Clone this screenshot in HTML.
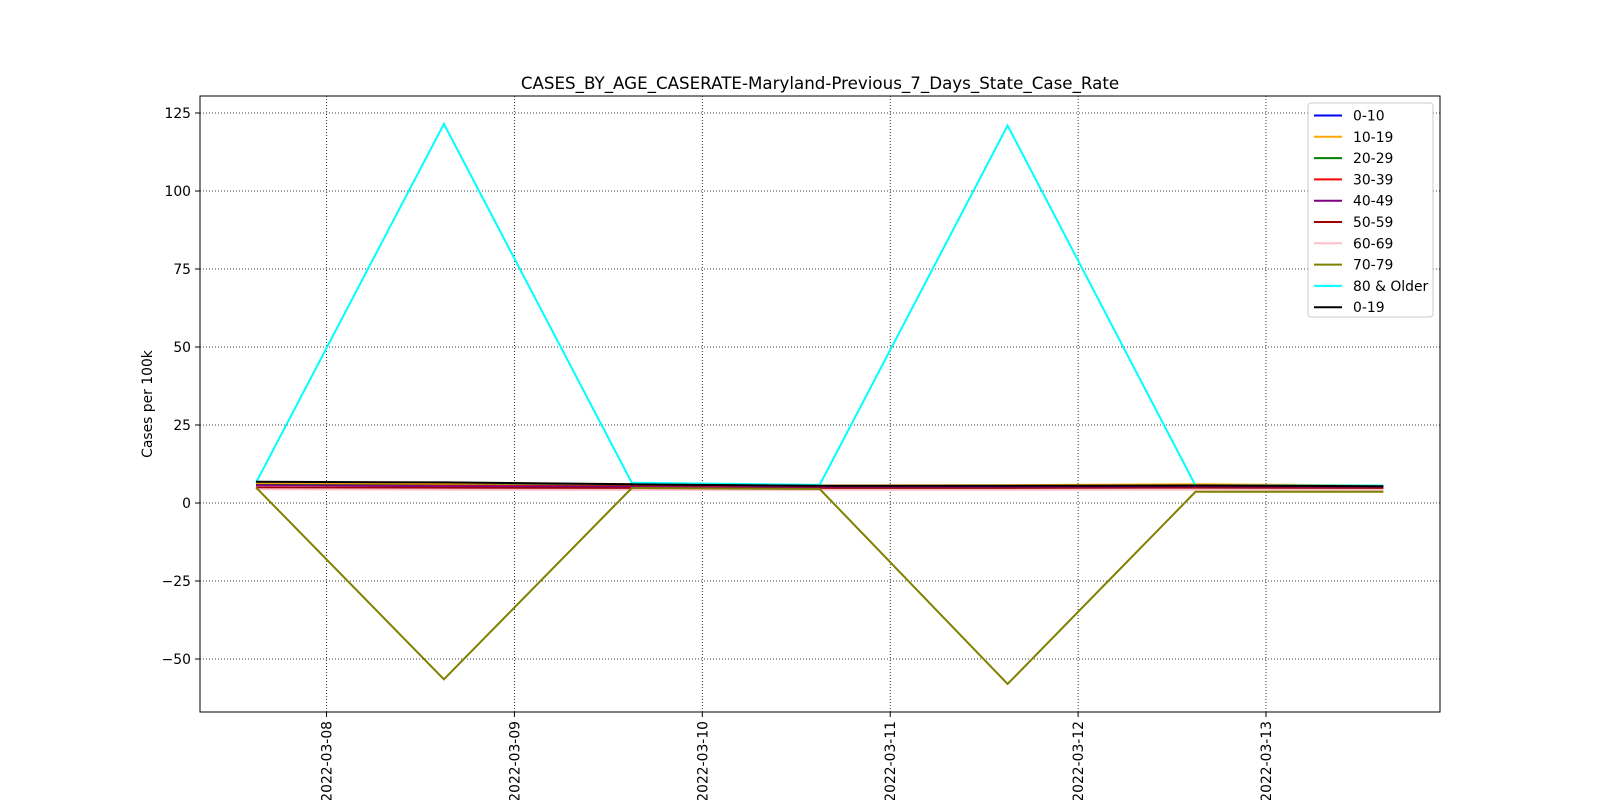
<!DOCTYPE html>
<html><head><meta charset="utf-8"><style>
body{margin:0;background:#fff;font-family:"Liberation Sans","DejaVu Sans",sans-serif}
svg text{font-family:"DejaVu Sans","Liberation Sans",sans-serif}
</style></head><body>
<svg id="chart" width="1600" height="800" viewBox="0 0 1600 800">
<rect width="1600" height="800" fill="#fff"/>
<text x="820" y="89" text-anchor="middle" font-size="16.7">CASES_BY_AGE_CASERATE-Maryland-Previous_7_Days_State_Case_Rate</text>
<g id="grid"></g><g id="series"></g><g id="axes"></g>
<rect x="200" y="96" width="1240" height="616" fill="none" stroke="#000" stroke-width="1"/>
<text transform="translate(152,404) rotate(-90)" text-anchor="middle" font-size="13.9">Cases per 100k</text>
<g id="legend"></g>
</svg>
<script>
const xTickLabels=["2022-03-08","2022-03-09","2022-03-10","2022-03-11","2022-03-12","2022-03-13"];
const yTicks=[-50,-25,0,25,50,75,100,125];
const dayOffsets=[-0.375,0.625,1.625,2.625,3.625,4.625,5.625];
const seriesNames=["0-10","10-19","20-29","30-39","40-49","50-59","60-69","70-79","80 & Older","0-19"];
const seriesColors=["blue","orange","green","red","purple","#a00000","pink","olive","cyan","black"];
const s0=[6.0,5.8,5.5,5.2,5.3,5.4,5.3];
const s1=[6.3,6.2,6.1,5.6,5.7,6.0,5.6];
const s2=[5.8,5.6,5.4,5.1,5.2,5.3,5.2];
const s3=[5.6,5.5,5.3,5.0,5.0,5.1,5.0];
const s4=[5.7,5.4,5.1,4.9,5.0,5.0,5.0];
const s5=[4.9,4.8,4.7,4.6,4.6,4.7,4.6];
const s6=[4.4,4.3,4.2,4.2,4.2,4.3,4.2];
const s7=[5.0,-56.5,4.8,4.5,-58.0,3.6,3.6];
const s8=[6.5,121.5,6.5,5.8,121.0,5.6,5.6];
const s9=[6.8,6.6,6.0,5.5,5.5,5.6,5.4];
const allSeries=[s0,s1,s2,s3,s4,s5,s6,s7,s8,s9];
const NS="http://www.w3.org/2000/svg";
const xS=d=>326.5+d*187.9;
const yS=v=>503-v*3.12;
function mk(t,a){const e=document.createElementNS(NS,t);for(const k in a)e.setAttribute(k,a[k]);return e;}
const grid=document.getElementById('grid'),axes=document.getElementById('axes'),ser=document.getElementById('series'),leg=document.getElementById('legend');
xTickLabels.forEach((l,i)=>{const x=xS(i);
 const g=mk('line',{x1:x,x2:x,y1:96,y2:712,stroke:'#000','stroke-width':0.8,'stroke-dasharray':'1,2'});
 
 grid.appendChild(g);
 const t=mk('line',{x1:x,x2:x,y1:712,y2:717,stroke:'#000'});
 
 axes.appendChild(t);
 const tx=mk('text',{transform:`translate(${x+5},721) rotate(-90)`,'text-anchor':'end','font-size':13.9});tx.textContent=l;
 
 axes.appendChild(tx);});
yTicks.forEach(v=>{const y=yS(v);
 const g=mk('line',{x1:200,x2:1440,y1:y,y2:y,stroke:'#000','stroke-width':0.8,'stroke-dasharray':'1,2'});
 
 grid.appendChild(g);
 const t=mk('line',{x1:195,x2:200,y1:y,y2:y,stroke:'#000'});
 
 axes.appendChild(t);
 const tx=mk('text',{x:191,y:y+5,'text-anchor':'end','font-size':13.9});tx.textContent=v<0?'\u2212'+(-v):String(v);
 
 axes.appendChild(tx);});
allSeries.forEach((s,i)=>{const p=s.map((v,j)=>xS(dayOffsets[j]).toFixed(1)+','+yS(v).toFixed(1)).join(' ');
 const pl=mk('polyline',{points:p,fill:'none',stroke:seriesColors[i],'stroke-width':2});
 
 ser.appendChild(pl);});
const box=mk('rect',{x:1308,y:103,width:125,height:214,rx:3,fill:'#fff',stroke:'#ccc'});

leg.appendChild(box);
seriesNames.forEach((n,i)=>{const y=115.5+i*21.3;
 const ln=mk('line',{x1:1314,x2:1342,y1:y,y2:y,stroke:seriesColors[i],'stroke-width':2});
 
 leg.appendChild(ln);
 const t=mk('text',{x:1353,y:y+5,'font-size':13.9});t.textContent=n;
 
 leg.appendChild(t);});
</script>
</body></html>
